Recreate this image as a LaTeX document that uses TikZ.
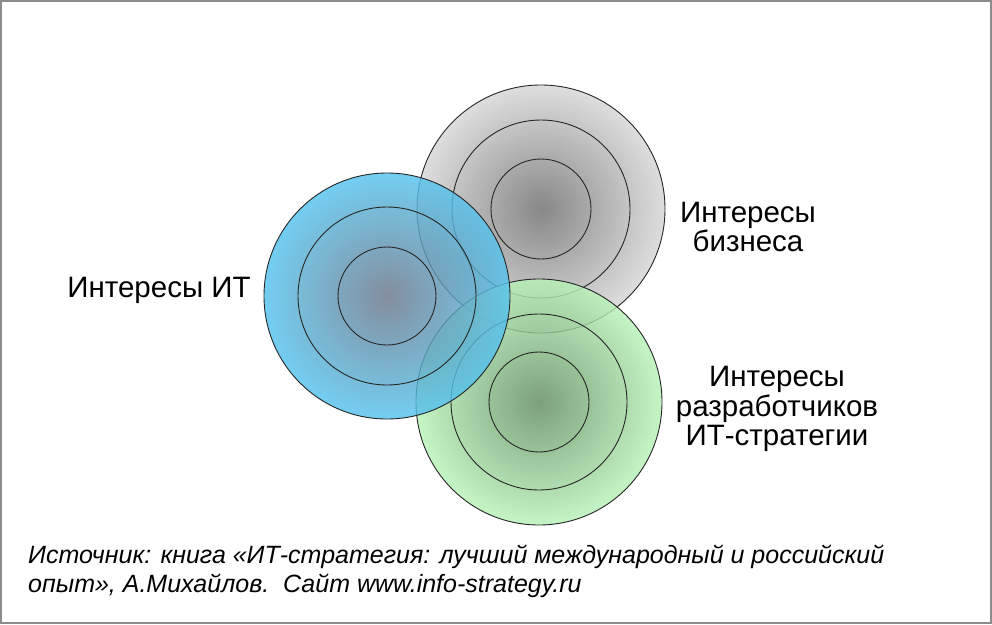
\documentclass[tikz,border=0pt]{standalone}
\usepackage{fontspec}
\setmainfont{Liberation Sans}
\definecolor{frame}{RGB}{140,140,140}
\definecolor{grayin}{RGB}{110,110,110}
\definecolor{grayout}{RGB}{215,215,215}
\definecolor{bluein}{RGB}{105,118,138}
\definecolor{blueout}{RGB}{85,195,238}
\definecolor{greenin}{RGB}{95,140,95}
\definecolor{greenout}{RGB}{185,243,185}
\begin{document}
\begin{tikzpicture}[x=1pt,y=-1pt,
  ring/.style={draw=black!85, line width=0.9pt},
  disc/.style={fill opacity=0.82},
  lbl/.style={font=\fontsize{29.5}{29.5}\selectfont, align=center, inner sep=0pt},
  src/.style={font=\fontsize{25}{29}\selectfont\itshape, align=left, anchor=north west, inner sep=0pt}]
\useasboundingbox (0,0) rectangle (992,624);
\fill[white] (0,0) rectangle (992,624);
\draw[frame, line width=2pt] (1,1) rectangle (991,623);
% business (gray)
\coordinate (cb) at (541,209);
\shade[disc, inner color=grayin, outer color=grayout] (cb) circle[radius=124];
\draw[ring] (cb) circle[radius=124] (cb) circle[radius=89] (cb) circle[radius=50];
% developers (green)
\coordinate (cg) at (539,402);
\shade[disc, inner color=greenin, outer color=greenout] (cg) circle[radius=123];
\draw[ring] (cg) circle[radius=123] (cg) circle[radius=88] (cg) circle[radius=50];
% IT (blue)
\coordinate (ci) at (387,296);
\shade[disc, inner color=bluein, outer color=blueout] (ci) circle[radius=123];
\draw[ring] (ci) circle[radius=123] (ci) circle[radius=89] (ci) circle[radius=49];
% labels
\node[lbl, anchor=base] (lit) at (159,297) {Интересы ИТ};
\node[lbl] (lbus) at (748,227) {Интересы\\бизнеса};
\node[lbl] (ldev) at (777,409) {Интересы\\разработчиков\\ИТ-стратегии};
\node[src] (srcnote) at (28,545) {Источник: книга «ИТ-стратегия: лучший международный и российский\\опыт», А.Михайлов.\ \ Сайт www.info-strategy.ru};
\end{tikzpicture}
\end{document}
